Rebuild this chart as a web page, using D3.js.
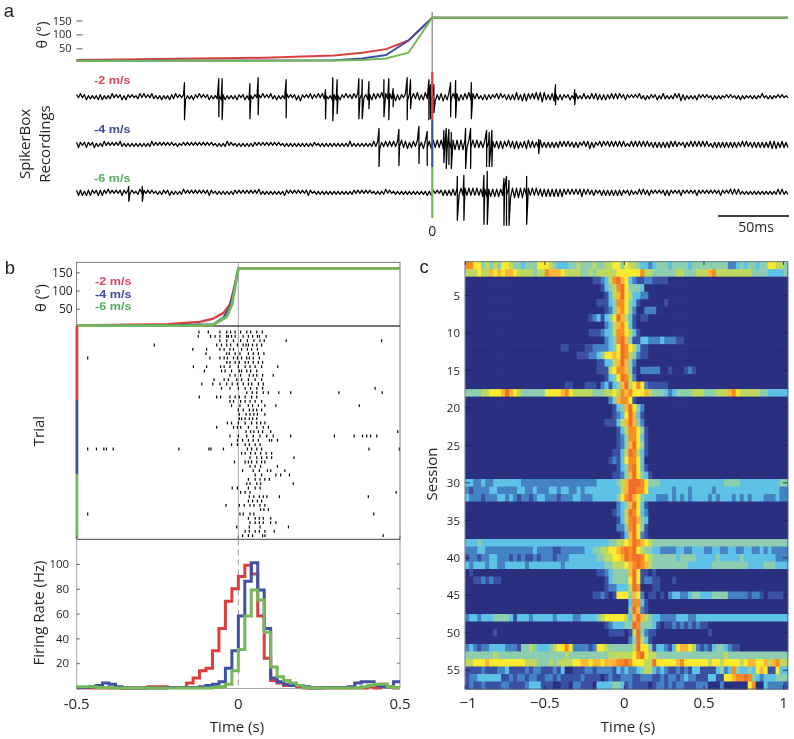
<!DOCTYPE html>
<html><head><meta charset="utf-8">
<script src="https://d3js.org/d3.v7.min.js"></script>
<style>
html,body{margin:0;padding:0;background:#fff}
svg{display:block;filter:blur(0.35px)}
text{font-family:"Open Sans",sans-serif;fill:#231f20}
</style></head><body><div id="c"></div>
<script>
// ---------- colours
const speedLabels=["-2 m/s","-4 m/s","-6 m/s"];
const speedColors=["#db3f3d","#3e51a3","#74b85a"];
const labelColors=["#dd4560","#3f4a9c","#56ad62"];
const heatColors=["#2b2f80","#3a51a3","#4482c4","#5ec1e6","#8dcdb0","#bfd85f","#f9ea30","#fbb73a","#f68d25","#f16d2a"];
// ---------- panel a: theta (deg) vs time (ms)
const aTime=[-254,-120,-70,-50,-33,-17,0,254];
const aThetaRed=[8,16,24,34,47,78,160,160];
const aThetaBlue=[5,6,7,13,26,78,160,160];
const aThetaGreen=[5,5,6,8,13,34,160,160];
// ---------- panel a: noise envelope per trace, alternating polarity
const noise1="2131231212 1323121231 2123132121 1231312132 1213121322 3121231213 2131212312 1213231212 1321231312 2121312132 1312123121 2314212132 2131321213 2313213122 3142312323 3231423232 3423213432 3243234243 3423342343 3234233243 3232132322 2132312323 2343243432 3243454323 3423232123 1232123212 3233232322 3232312321 2121321312 2123123212 1231342312 1213212121 1312121121 2112131211 1212113112 1211212111";
const noise2="2321232123 1212312121 2132121212 1212121231 2121212121 1211212121 2121212121 1212123121 1212121212 2121212121 2121121212 1212121212 2112121212 1212121232 1212121212 3234223232 3232433423 3243243334 4343443434 4545454343 4343333434 3334343243 3434233443 3323432323 2323323232 2323213234 2321323132 3232323212 3232323232 2323232323 3232212322 3232323232 1323232323 2323223232 2323232323 3434233323";
const noise3="2323132321 2323213121 2123212121 1231212121 1212212312 1212312121 2121212321 1212121212 2121212121 2132121212 1212132121 2121212321 1212121212 1212121212 2121212121 1212123121 1212121212 1212121313 2121232323 3343434343 4343343434 3434334345 4545454343 4343343434 3434343232 3232343232 2321232323 2323232123 2212323223 2121212323 2121232121 2123212121 2121232121 3232321212 1212121212 1212323212";
// spikes: [time ms, up, down]
const spikes1=[[-176.9,14,23],[-152.4,18,20],[-150,18,23],[-130.2,13,22],[-124.3,19,18],[-104.3,17,21],[-76.2,7,22],[-71,19,24],[-67.9,17,17],[-52.4,18,22],[-50,17,22],[-45.2,15,12],[-34.5,17,20],[-31,18,23],[-27.9,8,10],[-17.9,19,23],[-15.5,17,12],[-2.4,17,23],[-1.2,12,22],[1.2,12,16],[13.1,14,20],[16.7,16,21],[27.9,14,22],[88,12,8],[101.7,7,8]];
const spikes2=[[-38,16,22],[-23.8,15,21],[-9.5,18,19],[-3.6,13,21],[8.3,14,18],[10,16,24],[11.9,15,20],[13.6,12,24],[23.8,16,24],[27.4,16,24],[38.8,14,22],[40.7,12,22],[42.6,14,22],[76,5,9]];
const spikes3=[[-216.7,6,9],[-207,6,9],[17.9,16,28],[22.6,17,28],[36.9,17,32],[39.3,21,32],[51.2,14,33],[53,16,33],[54.8,12,33],[67.4,16,32]];
// ---------- panel b: theta vs time (s)
const bTimeRed=[-0.5,-0.22,-0.12,-0.08,-0.047,-0.026,-0.015,0,0.5];
const bThetaRed=[4,8,14,22,38,62,100,160,160];
const bTimeBlue=[-0.5,-0.2,-0.078,-0.046,-0.026,-0.012,0,0.5];
const bThetaBlue=[3,5,7,26,55,105,160,160];
const bTimeGreen=[-0.5,-0.12,-0.078,-0.036,-0.02,-0.01,0,0.5];
const bThetaGreen=[4,4,6,28,60,110,160,160];
// raster: spike times (ms) per trial
const trialSpikes=[
[-122,-93,-57,-36,-24,-10,7,26,38,57,74],
[-124,-86,-72,-57,-36,-31,-21,-10,15,31,44,59,65,86],
[-57,-36,-15,7,28,48,67,80,148,443],
[-260,-67,-52,-36,-24,-3,15,24,31,44,57,72],
[-141,-98,-57,-44,-26,-15,10,28,41,59],
[-100,-36,-28,-10,5,31,46,62,79],
[-466,-88,-57,-44,-34,-15,-3,10,26,34,46,65],
[-36,-26,-10,3,21,31,46,62,75],
[-139,-98,-55,-44,-26,0,21,36,52,72,122],
[-105,-52,-41,-21,3,10,26,38,57],
[-26,-10,7,34,46,57,75,108],
[-75,-44,-31,-5,10,31,52,72],
[-113,-79,-57,-36,-19,-3,15,31,41,62,77],
[-52,-26,0,21,38,57,75,423],
[26,43,57,77,93,125,162,311,445],
[-121,-67,-55,-26,-10,3,21,41,57],
[-26,-15,7,21,36,52,72],
[-21,5,31,44,62,82,116,374],
[0,15,34,46,57,72],
[3,24,36,48,59,82],
[3,10,21,34,44,57],
[-34,-21,0,21,41,57,69,82],
[-67,-15,-3,7,31,57,77,93],
[24,38,48,62,75,100,493],
[-26,0,26,46,67,88,108,162,297,358,384,397,409,428],
[-3,13,31,46,62,96,103,121],
[-21,-3,21,34,52,67],
[-466,-439,-416,-408,-387,-184,-91,-85,-46,28,41,57,72,404,498],
[10,21,38,52,69,86,103],
[36,57,72,88,103,172],
[-12,21,31,41,57,72,82],
[36,52,69,121],
[13,46,65,90,100,144],
[52,72,116,131,158],
[31,52,67,82,96],
[26,36,57,69,170],
[-19,-3,31,52,67],
[7,21,36,488],
[34,48,65,77,88,127,402],
[31,44,59,72],
[-38,3,18,36,48,67,82],
[69,79,93],
[-466,5,15,36,48,419],
[31,52,65,77,100],
[36,52,65,77,100,116],
[-5,34,67,155],
[21,34,52,65,82,111],
[13,31,44,75,82,448]];
// firing rate (Hz) in 20 ms bins from -0.5 s
const rateRed=[0,0,0,0,0,0,0,0,0,0,0,1,1,1,0.5,0.5,0.5,4,8,14,16,30,48,70,80,90,99,92,58,24,6,4,2,2,1,0,0,0,0,0,0,0,0,0,0,1,0,3,1,0];
const rateBlue=[0.5,0.5,1,2,4,3,1,0,0,0,0,0,0,0,0.5,0.5,0.5,0.5,0.5,1,2,3,5,16,30,58,86,101,79,48,8,5,3,2,2,1,0,0,0.5,0.5,0.5,0.5,1,4,5,5,2,1,1,5];
const rateGreen=[1,1,1,0.5,0.5,0,0,0,0,0,0,0,0,0,0,0,0,0,0,0,0,0.5,1,3,14,31,58,79,71,45,17,9,6,4,2,0.5,0,0,0,0,0,0,0,0,1,2,3,3,1,0.5];
// ---------- panel c: heat levels, session x 25 ms bin
const heatRows=[
"8866454546 6544344466 6543334454 4454455664 6554332344 4344443444 4444442234 3443446655 4",
"5556557676 7765555455 8777655554 4545555566 6666855444 4445544455 5785555555 5544443333 4",
"0000000000 0000000000 0000000000 0011235897 6321122111 1000000000 0000000000 0000000000 0",
"0000000000 0000000000 0000000000 0000134589 6444300000 0000000000 0000000000 0000000000 0",
"0000000000 0000000000 0000000000 0000013579 6533220000 0000000000 0000000000 0000000000 0",
"0000000000 0000000000 0000000000 0001113488 6431000000 1000000000 0000000000 0000000000 0",
"0000000000 0000000000 0000000000 0000012478 6420022200 0000000000 0000000000 0000000000 0",
"0000000000 0000000000 0000000000 0123134697 5310110000 0000000000 0000000000 0000000000 0",
"0000000000 0000000000 0000000000 0000023578 6310000000 0000000000 0000000000 0000000000 0",
"0000000000 0000000000 0000000000 0111233588 6531000000 0000000000 0000000000 0000000000 0",
"0000000000 0000000000 0000000000 0000023489 7411332223 2221100000 0000000000 0000000000 0",
"0000000000 0000000000 0000110000 1122223469 8653110000 0000000000 0000000000 0000000000 0",
"0000000000 0000000000 0000000011 1223466769 8542110000 0000000000 0000000000 0000000000 0",
"0000000000 0000000000 0000000000 0001133579 7420000000 0000000000 0000000000 0000000000 0",
"0000000000 0000000000 0000000000 0001115688 7410222220 0100012100 0000000000 0000000000 0",
"0000000000 0000000000 0000000000 0000013469 8520000000 0000000000 0000000000 0000000000 0",
"0000000000 0000000000 0000011000 1110231347 9568621111 1000000000 0000000000 0000000000 0",
"4444556667 9765444444 6666786555 5544455658 7866675444 3234444555 4445557865 5555443333 3",
"0000000000 0000000000 0000000000 0000002478 8610000000 0000000000 0000000000 0000000000 0",
"0000000000 0000000000 0000000000 0000000134 7964200000 0000000000 0000000000 0000000000 0",
"0000000000 0000000000 0000000000 0000000123 6973100000 0000000000 0000000000 0000000000 0",
"0000000000 0000000000 0000000000 0000011135 7974200000 0000000000 0000000000 0000000000 0",
"0000000000 0000000000 0000000000 0000000013 5886410000 0000000000 0000000000 0000000000 0",
"0000000000 0000000000 0000000000 0000000012 4886310000 0000000000 0000000000 0000000000 0",
"0000000000 0000000000 0000000000 0000000012 4796410000 0000000000 0000000000 0000000000 0",
"0000000000 0000000000 0000000000 0000000113 5985310000 0000000000 0000000000 0000000000 0",
"0000000000 0000000000 0000000000 0000001213 6886300000 0000000000 0000000000 0000000000 0",
"0000000000 0000000000 0000000000 0000000013 4896310000 0000000000 0000000000 0000000000 0",
"0000000000 0000000000 0000000000 0000000112 4796431000 0000000000 0000000000 0000000000 0",
"3322322333 3333222222 2222222222 2223333345 7999864443 3333333333 3333344443 3333333334 4",
"2122223322 2223322322 2332332232 3333333335 7998863333 3323332333 3323333333 3333333332 2",
"3222122233 2321221233 2221222332 2233333346 8976433322 2323232333 3232333232 3233322232 2",
"0000000000 0000000000 0000000000 0000000023 4796310000 0000000000 0000000000 0000000000 0",
"0000000000 0000000000 0000000000 0000000123 5986320000 0000000000 0000000000 0000000000 0",
"0000000000 0000000000 0000000000 0000000013 5897430000 0000000000 0000000000 0000000000 0",
"0000000000 0000000000 0000000000 0000000022 4896410000 0000000000 0000000000 0000000000 0",
"0000000000 0000000000 0000000000 0000000001 3796210000 0000000000 0000000000 0000000000 0",
"3334333333 3333333333 3333333333 3333334455 6798765444 4444444444 4444444444 4444444444 4",
"2223322222 2222222322 2211222222 3344556678 9896544332 2223322333 2233223322 3322323222 2",
"1221223322 2121211212 2212223333 3334455667 9899865444 4443444433 3334333334 3333333322 2",
"3233323322 3333323333 3333233333 3333344555 6789875444 4444443333 3344444444 4333344433 3",
"0100000000 0000000000 0000000000 0001123444 4796110100 0000000000 0000000000 0000000000 0",
"0011212110 0000000000 0000000000 0000013444 4696122110 0010000000 0000000000 0000000000 0",
"0000000000 0000000000 0000000000 0000012233 3598000110 0000000000 0000000000 0000000000 0",
"0000000000 0000000000 0000000000 0011210166 6476201101 0233223443 3344442222 2122101111 0",
"0000000000 0000000000 0000000000 0000000000 0388310000 0000000000 0000000000 0000000000 0",
"0000000000 0000000000 0000000000 0000000000 0497210000 0000000000 0000000000 0000000000 0",
"2332333444 4313332333 3323333223 3334566666 5379754332 2223332233 3333333333 3333333333 3",
"0000000000 0000000000 0000000000 0000012333 4498444310 1121212121 1000000000 0000000000 0",
"0000000100 0000000000 0000000000 0000001111 0159421100 0000000000 0100000000 0000000000 0",
"0000000000 0000000000 0000000000 0000000000 0249531000 0000000000 0000000000 0000000000 0",
"2321223333 2221445433 3456686222 2126654444 4459664133 2136776521 2134432110 0000000000 0",
"4444444544 4444444444 4444454444 4444445555 5568965544 4444444444 4444454444 4444444444 4",
"5566676666 6666655544 4545555667 7677677788 9866655966 6667866666 6566566665 6776675785 5",
"1111211122 3111121221 1121300111 2212222132 3223455323 2112121331 1113423843 3436761163 3",
"1223333331 1212212211 2212111112 1111012112 2211222112 1221232211 1331166788 9843233344 4",
"1211211112 2111123331 1100110221 1103333443 1211110122 1212211122 2000200000 0680032222 1"
];
const heatSessionTicks=[5,10,15,20,25,30,35,40,45,50,55];
const heatTimeTicks=[-1,-0.5,0,0.5,1];

const W=794,H=739;
const svg=d3.select("#c").append("svg").attr("width",W).attr("height",H);
const ink="#231f20", spine="#58595b";

function txt(x,y,s,size,opt={}){
  const t=svg.append("text").attr("x",x).attr("y",y).attr("font-size",size).text(s)
    .attr("text-anchor",opt.anchor||"middle");
  if(opt.fill)t.style("fill",opt.fill);
  if(opt.weight)t.attr("font-weight",opt.weight);
  if(opt.family)t.style("font-family",opt.family);
  if(opt.len)t.attr("textLength",opt.len).attr("lengthAdjust","spacingAndGlyphs");
  if(opt.rot!==undefined)t.attr("transform",`rotate(${opt.rot} ${x} ${y})`);
  return t;
}
function hv(x1,y1,x2,y2,c,w,dash){
  const l=svg.append("line").attr("x1",x1).attr("y1",y1).attr("x2",x2).attr("y2",y2)
    .attr("stroke",c).attr("stroke-width",w);
  if(dash)l.attr("stroke-dasharray",dash);
  return l;
}
function styleAxis(g,size){
  g.selectAll("text").attr("font-size",size).style("font-family",'"Open Sans",sans-serif').style("fill",ink);
  g.selectAll("line").attr("stroke",spine);
  g.select(".domain").remove();
}
const zip=(a,b)=>a.map((v,i)=>[v,b[i]]);
const legendFont={anchor:"start",weight:"700",family:'"Liberation Sans",sans-serif',len:36.5};
const panelFont='"Liberation Sans",sans-serif';

// ================= panel a
txt(9,16.5,"a",18.5,{family:panelFont});
const ax=d3.scaleLinear().domain([-254,254]).range([76.5,788]);
const ayT=d3.scaleLinear().domain([0,150]).range([62.2,20.5]);
const aLine=d3.line().x(d=>ax(d[0])).y(d=>ayT(d[1]));
hv(ax(0),12,ax(0),72,"#9a9a9a",1.5);
[aThetaRed,aThetaBlue,aThetaGreen].forEach((v,i)=>{
  svg.append("path").attr("d",aLine(zip(aTime,v))).attr("fill","none")
    .attr("stroke",speedColors[i]).attr("stroke-width",2);
});
const aAxis=svg.append("g").attr("transform","translate(76.5,0)")
  .call(d3.axisLeft(ayT).tickValues([50,100,150]).tickSizeInner(-6).tickSizeOuter(0).tickPadding(5));
styleAxis(aAxis,11);
txt(47,35,"θ (°)",14.5,{rot:-90});
txt(30,144,"SpikerBox",15,{rot:-90});
txt(50,144,"Recordings",15,{rot:-90});

const traceUnits=d3.scaleLinear().domain([0,1]).range([0,-1]); // 1 unit = 1px, up positive
const traces=[{n:noise1,s:spikes1,b:96.7},{n:noise2,s:spikes2,b:144.4},{n:noise3,s:spikes3,b:192.3}];
const noiseN=360;
const sampleT=d3.scaleLinear().domain([0,noiseN-1]).range([-254,254]);
traces.forEach(tr=>{
  const digits=tr.n.replace(/ /g,"").split("").map(Number);
  const pts=digits.map((d,i)=>[sampleT(i),(i%2?-1:1)*d*1.05]);
  tr.s.forEach(s=>{pts.push([s[0]-0.01,s[1]]);pts.push([s[0]+0.01,-s[2]]);});
  pts.sort((a,b)=>a[0]-b[0]);
  svg.append("path").attr("d",d3.line().x(d=>ax(d[0])).y(d=>tr.b+traceUnits(d[1]))(pts))
    .attr("fill","none").attr("stroke","#000").attr("stroke-width",1.25).attr("stroke-linejoin","round");
});
[[72,120],[120,167],[167,218]].forEach((r,i)=>hv(ax(0),r[0],ax(0),r[1],speedColors[i],2.2));
[84,133,181.7].forEach((y,i)=>txt(94,y,speedLabels[i],11,{...legendFont,fill:labelColors[i]}));
txt(ax(0),236,"0",14);
hv(ax(204),216,ax(254)+1,216,"#000",1.6);
txt(756,231.5,"50ms",14);

// ================= panel b
txt(10,274,"b",18.5,{family:panelFont});
const bx=d3.scaleLinear().domain([-0.5,0.5]).range([76.7,400]);
const byT=d3.scaleLinear().domain([0,150]).range([327,272.3]);
const bLine=d3.line().x(d=>bx(d[0])).y(d=>byT(d[1]));
hv(bx(0),262,bx(0),539,"#a6a8ab",1);
svg.append("rect").attr("x",bx(-0.5)).attr("y",262.3).attr("width",bx(0.5)-bx(-0.5)).attr("height",63.7)
  .attr("fill","none").attr("stroke",spine).attr("stroke-width",0.8);
hv(bx(-0.5),326,bx(0.5),326,"#333",1);
[[bTimeRed,bThetaRed,2.4],[bTimeBlue,bThetaBlue,2.4],[bTimeGreen,bThetaGreen,2.8]].forEach((s,i)=>{
  svg.append("path").attr("d",bLine(zip(s[0],s[1]))).attr("fill","none")
    .attr("stroke",speedColors[i]).attr("stroke-width",s[2]);
});
const bAxisT=svg.append("g").attr("transform","translate(76.7,0)")
  .call(d3.axisLeft(byT).tickValues([50,100,150]).tickSizeInner(-3).tickSizeOuter(0).tickPadding(4));
styleAxis(bAxisT,12);
[285,297.7,310.4].forEach((y,i)=>txt(95,y,speedLabels[i],11,{...legendFont,fill:labelColors[i]}));
txt(46,298,"θ (°)",15,{rot:-90});

// raster
const bRow=d3.scaleBand().domain(d3.range(48)).range([330,538]);
const rasterG=svg.append("g");
trialSpikes.forEach((row,i)=>{
  rasterG.selectAll(null).data(row).enter().append("line")
    .attr("x1",d=>bx(d/1000)).attr("x2",d=>bx(d/1000))
    .attr("y1",bRow(i)+0.6).attr("y2",bRow(i)+3.4)
    .attr("stroke","#000").attr("stroke-width",1.2);
});
hv(bx(-0.5),539.3,bx(0.5),539.3,"#444",1);
hv(bx(0.5),326,bx(0.5),539.3,"#58595b",0.8);
[[326,400],[400,474],[474,539.3]].forEach((r,i)=>hv(bx(-0.5)+0.2,r[0],bx(-0.5)+0.2,r[1],speedColors[i],2.8));
txt(44,431,"Trial",15,{rot:-90});
[-0.5,0,0.5].forEach(t=>hv(bx(t),535.5,bx(t),539.3,spine,0.8));

// firing rate
const by=d3.scaleLinear().domain([0,100]).range([688,564]);
const binEdges=d3.range(51).map(i=>-0.5+i*0.02);
hv(bx(0),539.3,bx(0),688,"#9a9a9a",1,"6,4");
hv(bx(-0.5),688.5,bx(0.5),688.5,"#a6a8ab",1);
hv(bx(0.5),539.3,bx(0.5),688.5,"#808285",0.8);
hv(bx(-0.5),539.3,bx(-0.5),688.5,"#a6a8ab",1);
[rateRed,rateBlue,rateGreen].forEach((v,i)=>{
  const pts=v.map((d,j)=>[binEdges[j],d]);
  pts.push([binEdges[50],v[49]]);
  svg.append("path").attr("d",d3.line().curve(d3.curveStepAfter).x(d=>bx(d[0])).y(d=>by(d[1]))(pts))
    .attr("fill","none").attr("stroke",speedColors[i]).attr("stroke-width",3);
});
const rateAxis=svg.append("g").attr("transform","translate(76.7,0)")
  .call(d3.axisLeft(by).tickValues([20,40,60,80,100]).tickSizeInner(-3).tickSizeOuter(0).tickPadding(7.5));
styleAxis(rateAxis,11.5);
[20,40,60,80,100].forEach(v=>hv(bx(0.5)-3,by(v),bx(0.5),by(v),spine,0.8));
[[-0.5,"-0.5"],[0,"0"],[0.5,"0.5"]].forEach(d=>txt(bx(d[0]),708.5,d[1],15));
txt(237,732,"Time (s)",15);
txt(44,613,"Firing Rate (Hz)",15,{rot:-90});

// ================= panel c
txt(424,273,"c",18.5,{family:panelFont});
const cx=d3.scaleLinear().domain([-1,1]).range([465.3,783.5]);
const cy=d3.scaleLinear().domain([0.5,57.5]).range([261.7,689]);
const cc=d3.scaleOrdinal().domain(d3.range(10)).range(heatColors);
const binW=0.025;
heatRows.forEach((r,i)=>{
  const vals=r.replace(/ /g,"").split("").map(Number);
  svg.append("g").selectAll("rect").data(vals).enter().append("rect")
    .attr("x",(d,j)=>cx(-1+j*binW)).attr("y",cy(i+0.5))
    .attr("width",cx(binW)-cx(0)+0.8).attr("height",cy(2)-cy(1)+0.6)
    .attr("fill",d=>cc(d));
});
svg.append("rect").attr("x",465).attr("y",261.7).attr("width",322.8).attr("height",427.3)
  .attr("fill","none").attr("stroke","#4d5a66").attr("stroke-width",0.8);
const cAxL=svg.append("g").attr("transform","translate(465,0)")
  .call(d3.axisLeft(cy).tickValues(heatSessionTicks).tickSize(0).tickPadding(5));
styleAxis(cAxL,11.5);
heatSessionTicks.forEach(s=>{
  hv(465,cy(s),470,cy(s),"#1c1f4a",0.8);
  hv(783,cy(s),787.8,cy(s),"#1c1f4a",0.8);
});
heatTimeTicks.forEach(t=>{
  hv(cx(t),261.7,cx(t),265,"#1c1f4a",0.8);
  hv(cx(t),685.5,cx(t),689,"#1c1f4a",0.8);
});
[[-1,"−1",468],[-0.5,"−0.5",null],[0,"0",null],[0.5,"0.5",null],[1,"1",null]].forEach(d=>
  txt(d[2]||cx(d[0]),708,d[1],15));
txt(628,732,"Time (s)",15);
txt(437,474,"Session",15,{rot:-90});
</script></body></html>
